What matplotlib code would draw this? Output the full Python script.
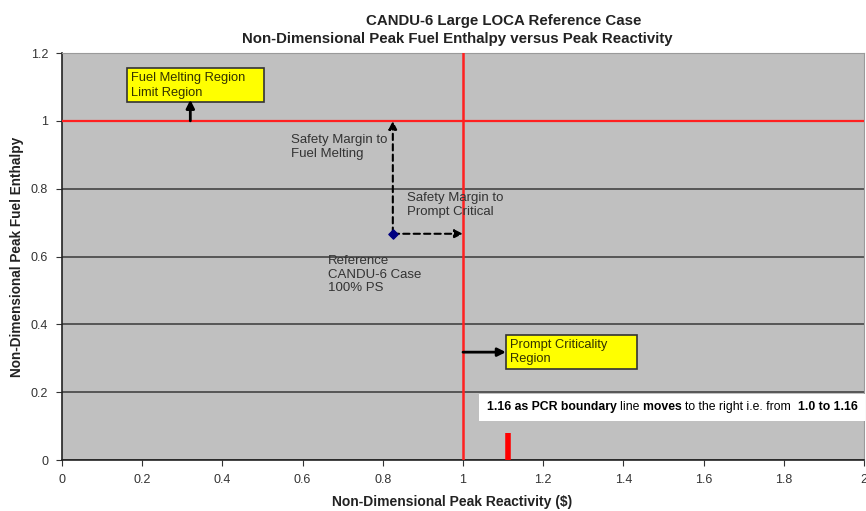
import matplotlib
matplotlib.use("Agg")
import matplotlib.pyplot as plt
from matplotlib.offsetbox import TextArea, HPacker, AnnotationBbox

plt.rcParams['font.family'] = ['Liberation Sans', 'DejaVu Sans']

# data
ref_x = [0.825]
ref_y = [0.667]
pcr_limit = 1.0
melt_limit = 1.0
new_pcr_x = 1.112
new_pcr_top = 0.08
x_ticks = [0, 0.2, 0.4, 0.6, 0.8, 1, 1.2, 1.4, 1.6, 1.8, 2]
y_ticks = [0, 0.2, 0.4, 0.6, 0.8, 1, 1.2]
x_tick_labels = ['0', '0.2', '0.4', '0.6', '0.8', '1', '1.2', '1.4', '1.6', '1.8', '2']
y_tick_labels = ['0', '0.2', '0.4', '0.6', '0.8', '1', '1.2']

W, H = 866, 511
fig = plt.figure(figsize=(W / 100, H / 100), dpi=100)
ax = fig.add_axes([62 / W, 51 / H, 802 / W, 407 / H])
ax.set_facecolor('#c0c0c0')
ax.set_xlim(0, 2)
ax.set_ylim(0, 1.2)
ax.set_xticks(x_ticks)
ax.set_xticklabels(x_tick_labels)
ax.set_yticks(y_ticks)
ax.set_yticklabels(y_tick_labels)
ax.tick_params(labelsize=9, colors='#333333', length=4, direction='out', pad=6)
for sp in ['top', 'right']:
    ax.spines[sp].set_color('#9a9a9a')
for sp in ['left', 'bottom']:
    ax.spines[sp].set_color('#222222')
    ax.spines[sp].set_linewidth(1.2)
ax.yaxis.grid(True, color='#444444', linewidth=1.2)
ax.set_axisbelow(True)

ax.axhline(melt_limit, color='#ff2020', lw=1.6, zorder=3)
ax.axvline(pcr_limit, color='#ff2020', lw=1.8, zorder=3)
ax.plot([new_pcr_x, new_pcr_x], [0, new_pcr_top], color='red', lw=4, solid_capstyle='butt', zorder=3)

ax.scatter(ref_x, ref_y, marker='D', s=22, color='#000080', zorder=5)

dash = dict(arrowstyle='-|>', linestyle=(0, (3, 2)), lw=1.5, color='black', mutation_scale=12, shrinkA=0, shrinkB=0)
ax.annotate('', xy=(ref_x[0], melt_limit), xytext=(ref_x[0], ref_y[0]), arrowprops=dash, zorder=4)
ax.annotate('', xy=(pcr_limit, ref_y[0]), xytext=(ref_x[0], ref_y[0]), arrowprops=dash, zorder=4)

solid = dict(arrowstyle='-|>', lw=2, color='black', mutation_scale=12, shrinkA=0, shrinkB=0)
ax.annotate('', xy=(0.32, 1.062), xytext=(0.32, melt_limit), arrowprops=solid, zorder=4)
ax.annotate('', xy=(1.107, 0.318), xytext=(pcr_limit, 0.318), arrowprops=solid, zorder=4)

ybox = dict(boxstyle='square,pad=0.3', fc='#ffff00', ec='#333333', lw=1.2)
ax.text(0.172, 1.143, 'Fuel Melting Region    \nLimit Region', fontsize=9.3, va='top', ha='left',
        color='#333300', bbox=ybox, linespacing=1.25)
ax.text(1.117, 0.358, 'Prompt Criticality       \nRegion', fontsize=9.3, va='top', ha='left',
        color='#333300', bbox=ybox, linespacing=1.25)

ax.text(0.57, 0.96, 'Safety Margin to\nFuel Melting', fontsize=9.5, va='top', ha='left',
        color='#333333', linespacing=1.2)
ax.text(0.86, 0.79, 'Safety Margin to\nPrompt Critical', fontsize=9.5, va='top', ha='left',
        color='#333333', linespacing=1.2)
ax.text(0.663, 0.605, 'Reference\nCANDU-6 Case\n100% PS', fontsize=9.5, va='top', ha='left',
        color='#333333', linespacing=1.2)

parts = [('1.16 as PCR boundary ', 'bold'), ('line ', 'normal'), ('moves ', 'bold'),
         ('to the right i.e. from  ', 'normal'), ('1.0 to 1.16', 'bold')]
areas = [TextArea(t, textprops=dict(fontsize=8.8, fontweight=w, color='black')) for t, w in parts]
pack = HPacker(children=areas, align='baseline', pad=0, sep=0)
ab = AnnotationBbox(pack, (1.06, 0.155), xycoords='data', box_alignment=(0, 0.5),
                    frameon=True, pad=0.55, bboxprops=dict(fc='white', ec='none'))
ax.add_artist(ab)

ax.set_xlabel('Non-Dimensional Peak Reactivity ($)', fontsize=10, fontweight='bold', color='#222222')
ax.xaxis.set_label_coords(0.486, -0.085)
ax.set_ylabel('Non-Dimensional Peak Fuel Enthalpy', fontsize=9.8, fontweight='bold', color='#222222')
ax.yaxis.set_label_coords(-0.048, 0.5)

fig.text(504 / W, 1 - 21 / H, 'CANDU-6 Large LOCA Reference Case', fontsize=10.8, fontweight='bold',
         color='#222222', ha='center', va='center')
fig.text(457 / W, 1 - 39 / H, 'Non-Dimensional Peak Fuel Enthalpy versus Peak Reactivity', fontsize=10.8,
         fontweight='bold', color='#222222', ha='center', va='center')

fig.savefig('out.png', dpi=100)
